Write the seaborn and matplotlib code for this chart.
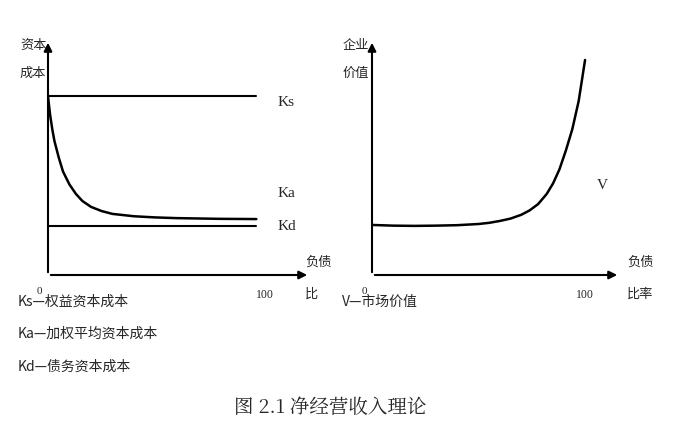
import matplotlib
matplotlib.use('Agg')
import matplotlib.pyplot as plt
import seaborn as sns

sns.set_theme(style='white')
plt.rcParams['font.family'] = ['Noto Sans CJK SC', 'DejaVu Sans']

# left chart: cost of capital vs debt ratio
ks_x = [0, 97]
ks_y = [76, 76]
kd_x = [0, 97]
kd_y = [20.9, 20.9]
ka_x = [0, 1, 2, 3, 5, 7, 10, 13, 16, 20, 25, 30, 40, 50, 60, 80, 97]
ka_y = [76, 68, 62, 57, 50, 44, 38.5, 34.5, 31.5, 29, 27.2, 26, 25, 24.5, 24.2, 23.9, 23.8]

# right chart: firm value vs debt ratio
v_x = [0, 10, 20, 30, 40, 50, 55, 60, 65, 70, 74, 78, 82, 85, 88, 91, 94, 97, 100]
v_y = [21.3, 21.0, 20.9, 21.0, 21.2, 21.7, 22.2, 23.0, 24.0, 25.6, 27.5, 30.2, 34.5, 39, 45, 53, 62, 74, 91.5]

W, H = 698, 433
fig = plt.figure(figsize=(W / 100, H / 100), dpi=100)


def add_ax(x0, x1, y0, y1, xmax):
    ax = fig.add_axes([x0 / W, 1 - y0 / H, (x1 - x0) / W, (y0 - y1) / H])
    ax.set_xlim(0, xmax)
    ax.set_ylim(0, 100)
    ax.axis('off')
    arrow = dict(arrowstyle='-|>', color='black', lw=1.5, mutation_scale=12)
    ax.annotate('', xy=(xmax, 0), xytext=(0, 0), arrowprops=arrow, annotation_clip=False)
    ax.annotate('', xy=(0, 100), xytext=(0, 0), arrowprops=arrow, annotation_clip=False)
    return ax


axl = add_ax(48, 310, 275, 40, 122)
sns.lineplot(x=ks_x, y=ks_y, ax=axl, color='black', lw=1.5)
sns.lineplot(x=kd_x, y=kd_y, ax=axl, color='black', lw=1.5)
sns.lineplot(x=ka_x, y=ka_y, ax=axl, color='black', lw=1.8)

axr = add_ax(372, 620, 275, 40, 116.4)
sns.lineplot(x=v_x, y=v_y, ax=axr, color='black', lw=1.8, sort=False)


def t(x, y, s, size=9.5, **kw):
    fig.text(x / W, 1 - y / H, s, fontsize=size, va='center', ha='left', **kw)


serif = ['Liberation Serif', 'DejaVu Serif']
t(20, 45, '资本')
t(20, 73, '成本')
t(305, 262, '负债')
t(305, 294, '比')
t(343, 45, '企业')
t(343, 73, '价值')
t(627, 262, '负债')
t(627, 294, '比率')
t(37, 291, '0', size=8, family=serif)
t(256, 295, '100', size=8.5, family=serif)
t(362, 291, '0', size=8, family=serif)
t(576, 295, '100', size=8.5, family=serif)
t(278, 102, 'Ks', size=11, family=serif)
t(278, 193, 'Ka', size=11, family=serif)
t(278, 226, 'Kd', size=11, family=serif)
t(597, 185, 'V', size=11, family=serif)
t(18, 302, 'Ks—权益资本成本', size=10)
t(18, 334, 'Ka—加权平均资本成本', size=10)
t(18, 367, 'Kd—债务资本成本', size=10)
t(342, 302, 'V—市场价值', size=10)
fig.text(330 / W, 1 - 408 / H, '图 2.1 净经营收入理论', fontsize=14, ha='center', va='center',
         family=['Noto Serif CJK SC', 'Noto Sans CJK SC', 'DejaVu Sans'])

fig.savefig('out.png', dpi=100)
